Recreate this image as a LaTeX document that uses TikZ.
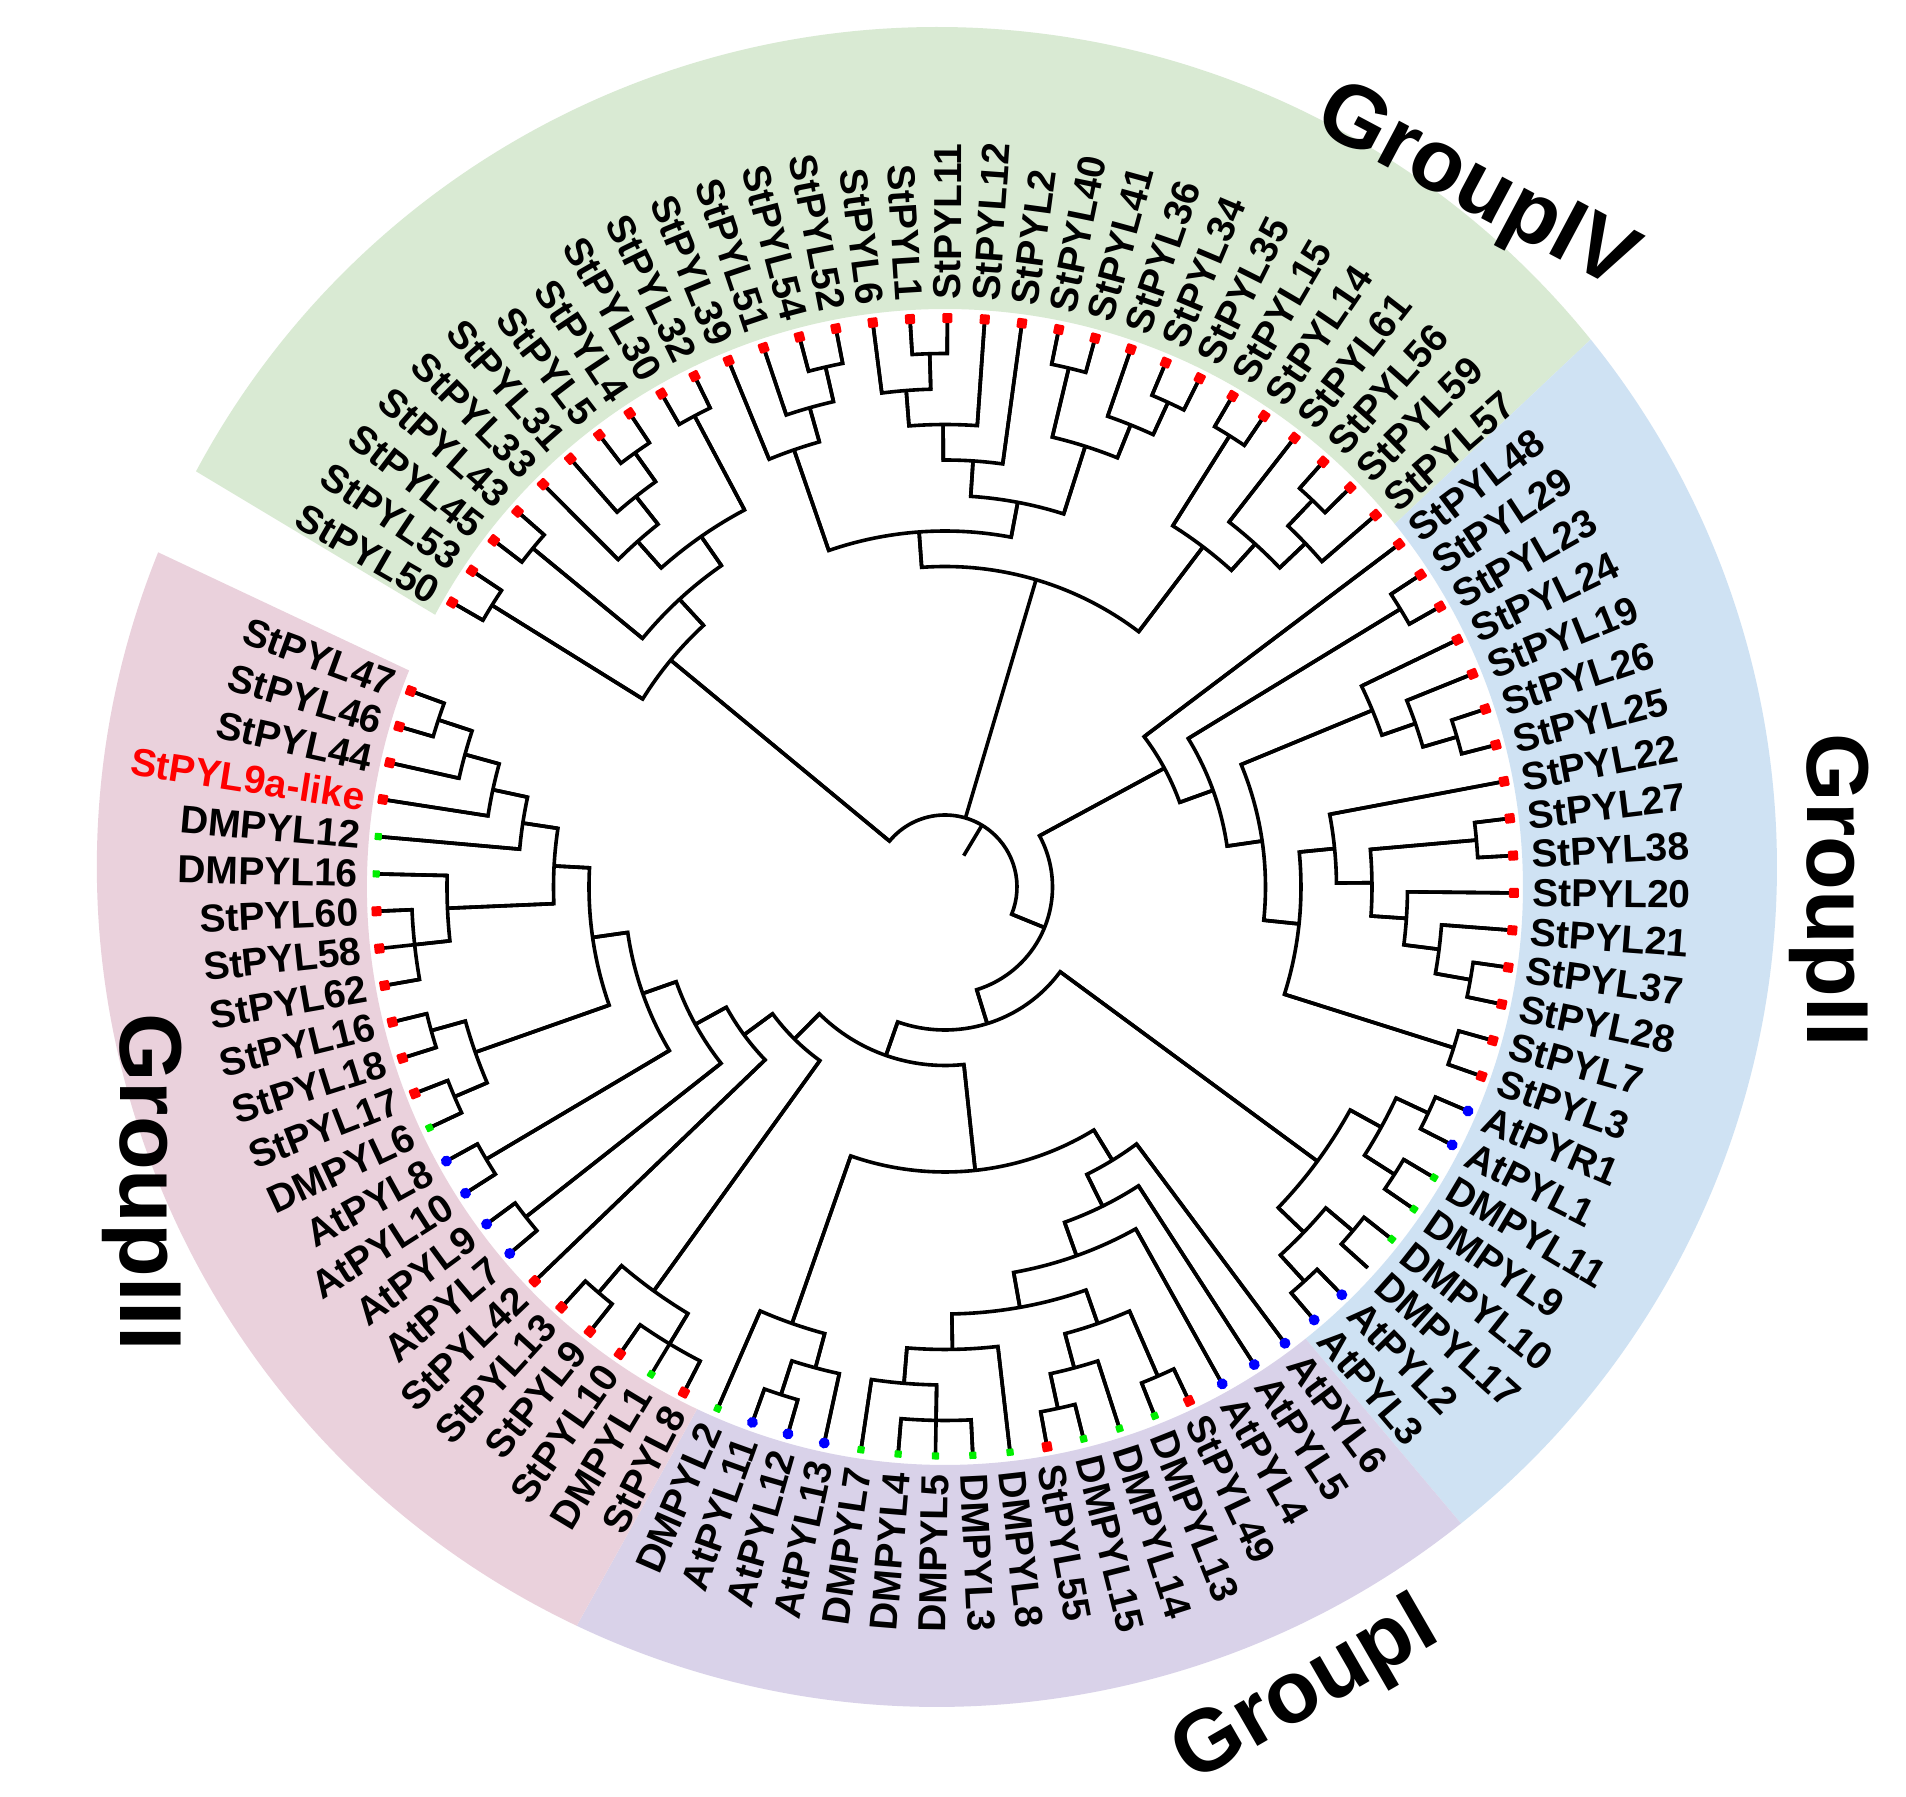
\documentclass[tikz,border=0pt]{standalone}
\usepackage{fontspec}
\setmainfont{Liberation Sans}
\definecolor{bgIV}{HTML}{D9EAD3}
\definecolor{bgII}{HTML}{CFE2F3}
\definecolor{bgI}{HTML}{D9D2E9}
\definecolor{bgIII}{HTML}{EAD1DC}
\definecolor{dR}{HTML}{FF0000}
\definecolor{dG}{HTML}{00EE00}
\definecolor{dB}{HTML}{0000FF}
\pgfdeclarelayer{fg}
\pgfsetlayers{main,fg}
\tikzset{
  branch/.style={line width=1.8pt, black, line join=miter},
  leaflab/.style={font=\fontsize{19.5}{22}\selectfont\bfseries, inner sep=0pt},
  grouplab/.style={font=\fontsize{44}{50}\selectfont\bfseries, inner sep=0pt},
  dotR/.style={fill=dR, rectangle, rounded corners=0.6pt, minimum size=5pt, inner sep=0pt},
  dotB/.style={fill=dB, circle, minimum size=5.5pt, inner sep=0pt},
  dotG/.style={fill=dG, rectangle, rounded corners=0.4pt, minimum size=3.6pt, inner sep=0pt},
  nodot/.style={inner sep=0pt, minimum size=0pt},
}
\makeatletter
\def\Rleaf{569}
\def\Rlab{587}
\def\Lstep{35.5}
\def\dang{3.765}
% #1 name, #2 index, #3 label, #4 dot style, #5 label colour
\newcommand\leafnode[5]{%
  \pgfmathsetmacro\lf@a{150-\dang*#2}%
  \expandafter\xdef\csname A@#1\endcsname{\lf@a}%
  \expandafter\xdef\csname H@#1\endcsname{0}%
  \coordinate (#1) at (\lf@a:\Rleaf);
  \pgfmathtruncatemacro\lf@flip{cos(\lf@a)<0}%
  \ifnum\lf@flip=1
    \pgfmathsetmacro\lf@r{\lf@a+180}%
    \node[leaflab, text=#5, anchor=east, rotate=\lf@r] (#1t) at (\lf@a:\Rlab) {#3};
  \else
    \node[leaflab, text=#5, anchor=west, rotate=\lf@a] (#1t) at (\lf@a:\Rlab) {#3};
  \fi
  \begin{pgfonlayer}{fg}
    \node[#4, rotate=\lf@a] (#1d) at (#1) {};
  \end{pgfonlayer}
}
% #1 name, #2 comma list of children
\newcommand\innode[2]{%
  \let\nd@first\relax
  \def\nd@h{0}%
  \@for\nd@c:=#2\do{%
    \edef\nd@ca{\csname A@\nd@c\endcsname}%
    \edef\nd@ch{\csname H@\nd@c\endcsname}%
    \ifx\nd@first\relax
      \let\nd@first\nd@ca
      \edef\nd@fn{\nd@c}%
    \fi
    \let\nd@last\nd@ca
    \edef\nd@ln{\nd@c}%
    \pgfmathsetmacro\nd@h{max(\nd@h,\nd@ch)}%
  }%
  \pgfmathsetmacro\nd@h{\nd@h+1}%
  \pgfmathsetmacro\nd@r{\Rleaf-\Lstep*\nd@h}%
  \pgfmathsetmacro\nd@a{(\nd@first+\nd@last)/2}%
  \expandafter\xdef\csname A@#1\endcsname{\nd@a}%
  \expandafter\xdef\csname H@#1\endcsname{\nd@h}%
  \coordinate (#1) at (\nd@a:\nd@r);
  \draw[branch] (\nd@fn) -- (\nd@first:\nd@r) arc[start angle=\nd@first, end angle=\nd@last, radius=\nd@r] -- (\nd@ln);
  \@for\nd@c:=#2\do{%
    \edef\nd@ca{\csname A@\nd@c\endcsname}%
    \draw[branch] (\nd@ca:\nd@r) -- (\nd@c);
  }%
}
% band sector: #1 colour, #2 start angle, #3 end angle
\newcommand\band[3]{%
  \fill[#1] (#2:578) arc[start angle=#2, end angle=#3, radius=578]
    -- ([shift={(-8,20)}]#3:840) arc[start angle=#3, end angle=#2, radius=840] -- cycle;
}
\makeatother
\begin{document}
\begin{tikzpicture}[x=0.5pt,y=0.5pt]
\fill[white] (-945,-910) rectangle (961,887);
\useasboundingbox (-945,-910) rectangle (961,887);
% background sectors
\band{bgIV}{151.9}{38.9}
\band{bgII}{38.9}{-51.4}
\band{bgI}{-51.4}{-115.4}
\band{bgIII}{-115.4}{-202.0}
% leaves
\leafnode{l0}{0}{StPYL50}{dotR}{black}
\leafnode{l1}{1}{StPYL53}{dotR}{black}
\leafnode{l2}{2}{StPYL45}{dotR}{black}
\leafnode{l3}{3}{StPYL43}{dotR}{black}
\leafnode{l4}{4}{StPYL33}{dotR}{black}
\leafnode{l5}{5}{StPYL31}{dotR}{black}
\leafnode{l6}{6}{StPYL5}{dotR}{black}
\leafnode{l7}{7}{StPYL4}{dotR}{black}
\leafnode{l8}{8}{StPYL30}{dotR}{black}
\leafnode{l9}{9}{StPYL32}{dotR}{black}
\leafnode{l10}{10}{StPYL39}{dotR}{black}
\leafnode{l11}{11}{StPYL51}{dotR}{black}
\leafnode{l12}{12}{StPYL54}{dotR}{black}
\leafnode{l13}{13}{StPYL52}{dotR}{black}
\leafnode{l14}{14}{StPYL6}{dotR}{black}
\leafnode{l15}{15}{StPYL1}{dotR}{black}
\leafnode{l16}{16}{StPYL11}{dotR}{black}
\leafnode{l17}{17}{StPYL12}{dotR}{black}
\leafnode{l18}{18}{StPYL2}{dotR}{black}
\leafnode{l19}{19}{StPYL40}{dotR}{black}
\leafnode{l20}{20}{StPYL41}{dotR}{black}
\leafnode{l21}{21}{StPYL36}{dotR}{black}
\leafnode{l22}{22}{StPYL34}{dotR}{black}
\leafnode{l23}{23}{StPYL35}{dotR}{black}
\leafnode{l24}{24}{StPYL15}{dotR}{black}
\leafnode{l25}{25}{StPYL14}{dotR}{black}
\leafnode{l26}{26}{StPYL61}{dotR}{black}
\leafnode{l27}{27}{StPYL56}{dotR}{black}
\leafnode{l28}{28}{StPYL59}{dotR}{black}
\leafnode{l29}{29}{StPYL57}{dotR}{black}
\leafnode{l30}{30}{StPYL48}{dotR}{black}
\leafnode{l31}{31}{StPYL29}{dotR}{black}
\leafnode{l32}{32}{StPYL23}{dotR}{black}
\leafnode{l33}{33}{StPYL24}{dotR}{black}
\leafnode{l34}{34}{StPYL19}{dotR}{black}
\leafnode{l35}{35}{StPYL26}{dotR}{black}
\leafnode{l36}{36}{StPYL25}{dotR}{black}
\leafnode{l37}{37}{StPYL22}{dotR}{black}
\leafnode{l38}{38}{StPYL27}{dotR}{black}
\leafnode{l39}{39}{StPYL38}{dotR}{black}
\leafnode{l40}{40}{StPYL20}{dotR}{black}
\leafnode{l41}{41}{StPYL21}{dotR}{black}
\leafnode{l42}{42}{StPYL37}{dotR}{black}
\leafnode{l43}{43}{StPYL28}{dotR}{black}
\leafnode{l44}{44}{StPYL7}{dotR}{black}
\leafnode{l45}{45}{StPYL3}{dotR}{black}
\leafnode{l46}{46}{AtPYR1}{dotB}{black}
\leafnode{l47}{47}{AtPYL1}{dotB}{black}
\leafnode{l48}{48}{DMPYL11}{dotG}{black}
\leafnode{l49}{49}{DMPYL9}{dotG}{black}
\leafnode{l50}{50}{DMPYL10}{dotG}{black}
\leafnode{l51}{51}{DMPYL17}{nodot}{black}
\leafnode{l52}{52}{AtPYL2}{dotB}{black}
\leafnode{l53}{53}{AtPYL3}{dotB}{black}
\leafnode{l54}{54}{AtPYL6}{dotB}{black}
\leafnode{l55}{55}{AtPYL5}{dotB}{black}
\leafnode{l56}{56}{AtPYL4}{dotB}{black}
\leafnode{l57}{57}{StPYL49}{dotR}{black}
\leafnode{l58}{58}{DMPYL13}{dotG}{black}
\leafnode{l59}{59}{DMPYL14}{dotG}{black}
\leafnode{l60}{60}{DMPYL15}{dotG}{black}
\leafnode{l61}{61}{StPYL55}{dotR}{black}
\leafnode{l62}{62}{DMPYL8}{dotG}{black}
\leafnode{l63}{63}{DMPYL3}{dotG}{black}
\leafnode{l64}{64}{DMPYL5}{dotG}{black}
\leafnode{l65}{65}{DMPYL4}{dotG}{black}
\leafnode{l66}{66}{DMPYL7}{dotG}{black}
\leafnode{l67}{67}{AtPYL13}{dotB}{black}
\leafnode{l68}{68}{AtPYL12}{dotB}{black}
\leafnode{l69}{69}{AtPYL11}{dotB}{black}
\leafnode{l70}{70}{DMPYL2}{dotG}{black}
\leafnode{l71}{71}{StPYL8}{dotR}{black}
\leafnode{l72}{72}{DMPYL1}{dotG}{black}
\leafnode{l73}{73}{StPYL10}{dotR}{black}
\leafnode{l74}{74}{StPYL9}{dotR}{black}
\leafnode{l75}{75}{StPYL13}{dotR}{black}
\leafnode{l76}{76}{StPYL42}{dotR}{black}
\leafnode{l77}{77}{AtPYL7}{dotB}{black}
\leafnode{l78}{78}{AtPYL9}{dotB}{black}
\leafnode{l79}{79}{AtPYL10}{dotB}{black}
\leafnode{l80}{80}{AtPYL8}{dotB}{black}
\leafnode{l81}{81}{DMPYL6}{dotG}{black}
\leafnode{l82}{82}{StPYL17}{dotR}{black}
\leafnode{l83}{83}{StPYL18}{dotR}{black}
\leafnode{l84}{84}{StPYL16}{dotR}{black}
\leafnode{l85}{85}{StPYL62}{dotR}{black}
\leafnode{l86}{86}{StPYL58}{dotR}{black}
\leafnode{l87}{87}{StPYL60}{dotR}{black}
\leafnode{l88}{88}{DMPYL16}{dotG}{black}
\leafnode{l89}{89}{DMPYL12}{dotG}{black}
\leafnode{l90}{90}{StPYL9a-like}{dotR}{red}
\leafnode{l91}{91}{StPYL44}{dotR}{black}
\leafnode{l92}{92}{StPYL46}{dotR}{black}
\leafnode{l93}{93}{StPYL47}{dotR}{black}
% Group IV
\innode{np01}{l0,l1}
\innode{np23}{l2,l3}
\innode{np67}{l6,l7}
\innode{nL31}{l5,np67}
\innode{nL33}{l4,nL31}
\innode{np89}{l8,l9}
\innode{nL3}{nL33,np89}
\innode{nL2}{np23,nL3}
\innode{nL1}{np01,nL2}
\innode{np1213}{l12,l13}
\innode{nK51}{l11,np1213}
\innode{nK39}{l10,nK51}
\innode{np1516}{l15,l16}
\innode{nN6}{l14,np1516}
\innode{nN12}{nN6,l17}
\innode{nN2}{nN12,l18}
\innode{np1920}{l19,l20}
\innode{np2223}{l22,l23}
\innode{nQ36}{l21,np2223}
\innode{nQ4}{np1920,nQ36}
\innode{nN40}{nN2,nQ4}
\innode{nM1}{nK39,nN40}
\innode{np2425}{l24,l25}
\innode{np2728}{l27,l28}
\innode{nR57}{np2728,l29}
\innode{nR61}{l26,nR57}
\innode{nR15}{np2425,nR61}
\innode{nM0}{nM1,nR15}
% Group II
\innode{np3132}{l31,l32}
\innode{np3536}{l35,l36}
\innode{nSB2}{l34,np3536}
\innode{nSB24}{l33,nSB2}
\innode{np3839}{l38,l39}
\innode{np4243}{l42,l43}
\innode{nS8}{l41,np4243}
\innode{nS7}{l40,nS8}
\innode{nS6}{np3839,nS7}
\innode{nS5}{l37,nS6}
\innode{np4445}{l44,l45}
\innode{nS4}{nS5,np4445}
\innode{nS3}{nSB24,nS4}
\innode{nS2}{np3132,nS3}
\innode{nS1}{l30,nS2}
\innode{np4647}{l46,l47}
\innode{np4849}{l48,l49}
\innode{nUR1}{np4647,np4849}
\innode{np5051}{l50,l51}
\innode{np5253}{l52,l53}
\innode{nUR2}{np5051,np5253}
\innode{nURt}{nUR1,nUR2}
% Group I
\innode{np5758}{l57,l58}
\innode{np6061}{l60,l61}
\innode{nY2}{l59,np6061}
\innode{nY3}{np5758,nY2}
\innode{nX2}{l63,l64,l65}
\innode{nZ2}{nX2,l66}
\innode{nZ}{l62,nZ2}
\innode{nY4}{nY3,nZ}
\innode{nY5}{l56,nY4}
\innode{nW3}{l55,nY5}
\innode{nW2}{l54,nW3}
\innode{np6869}{l68,l69}
\innode{nWL2}{l67,np6869}
\innode{nWL}{nWL2,l70}
\innode{nW}{nW2,nWL}
% Group III
\innode{nX3}{l71,l72,l73}
\innode{np7475}{l74,l75}
\innode{nG2}{nX3,np7475}
\innode{np7778}{l77,l78}
\innode{np7980}{l79,l80}
\innode{np8182}{l81,l82}
\innode{np8384}{l83,l84}
\innode{nE1}{np8182,np8384}
\innode{nX}{l85,l86,l87}
\innode{nB}{nX,l88}
\innode{np9293}{l92,l93}
\innode{nn44}{l91,np9293}
\innode{nn9a}{l90,nn44}
\innode{nDM12}{l89,nn9a}
\innode{nC}{nB,nDM12}
\innode{nD}{nE1,nC}
\innode{nF}{np7980,nD}
\innode{nF2}{np7778,nF}
\innode{nF3}{l76,nF2}
\innode{nF4}{nG2,nF3}
\innode{nV}{nW,nF4}
\innode{nU}{nURt,nV}
\innode{nT}{nS1,nU}
\innode{nroot}{nL1,nM0,nT}
\makeatletter
\coordinate (nroot0) at (\A@nroot:36.5);
\makeatother
\draw[branch] (nroot0) -- (nroot);
% group labels
\node[grouplab, rotate=-28] (gIV) at (530,697) {GroupIV};
\node[grouplab, rotate=-90] (gII) at (884,-3) {GroupII};
\node[grouplab, rotate=30] (gI) at (362,-806) {GroupI};
\node[grouplab, rotate=-90] (gIII) at (-803,-295) {GroupIII};
\end{tikzpicture}
\end{document}
